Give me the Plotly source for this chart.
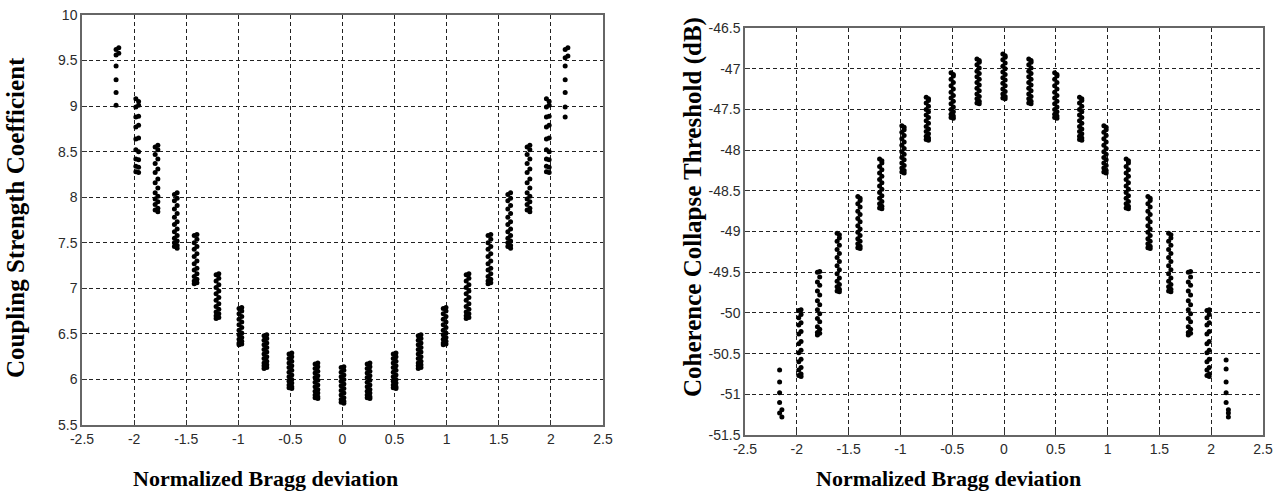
import plotly.graph_objects as go

# ---------------- Left panel: Coupling Strength Coefficient ----------------
L_X = [-2.16, -1.97, -1.785, -1.6, -1.41, -1.2, -0.98, -0.74, -0.5, -0.25, 0.0,
       0.25, 0.5, 0.74, 0.98, 1.2, 1.41, 1.6, 1.785, 1.97, 2.15]

L_M216_A = [9.62, 9.56, 9.44, 9.29, 9.15, 9.01]
L_M216_B = [9.64, 9.58]
L_M197_A = [9.08, 8.99, 8.88, 8.77, 8.64, 8.52, 8.42, 8.34, 8.28]
L_M197_B = [9.05, 9.01, 8.89, 8.79, 8.65, 8.50, 8.41, 8.33, 8.27]
L_M178_A = [8.55, 8.47, 8.37, 8.27, 8.16, 8.05, 7.98, 7.92, 7.86]
L_M178_B = [8.57, 8.52, 8.42, 8.31, 8.20, 8.10, 8.01, 7.95, 7.88, 7.84]
L_M160_A = [8.03, 7.96, 7.87, 7.78, 7.70, 7.62, 7.55, 7.50, 7.46]
L_M160_B = [8.05, 7.99, 7.91, 7.82, 7.73, 7.65, 7.58, 7.52, 7.47, 7.44]
L_M141_A = [7.58, 7.50, 7.43, 7.35, 7.27, 7.20, 7.13, 7.08, 7.05]
L_M141_B = [7.59, 7.54, 7.46, 7.38, 7.30, 7.22, 7.16, 7.10, 7.06]
L_M120_A = [7.15, 7.08, 7.01, 6.94, 6.87, 6.80, 6.74, 6.70, 6.67]
L_M120_B = [7.16, 7.11, 7.04, 6.97, 6.90, 6.83, 6.77, 6.72, 6.68]
L_M098_A = [6.78, 6.72, 6.66, 6.60, 6.54, 6.49, 6.44, 6.40, 6.38]
L_M098_B = [6.79, 6.75, 6.69, 6.63, 6.57, 6.51, 6.46, 6.42, 6.39]
L_M074_A = [6.48, 6.43, 6.38, 6.33, 6.28, 6.23, 6.18, 6.15, 6.12]
L_M074_B = [6.49, 6.45, 6.40, 6.35, 6.30, 6.25, 6.20, 6.16, 6.13]
L_M050_A = [6.28, 6.23, 6.18, 6.13, 6.08, 6.03, 5.98, 5.94, 5.91]
L_M050_B = [6.29, 6.25, 6.20, 6.15, 6.10, 6.05, 6.00, 5.96, 5.92, 5.90]
L_M025_A = [6.17, 6.12, 6.07, 6.02, 5.97, 5.92, 5.87, 5.83, 5.80]
L_M025_B = [6.18, 6.14, 6.09, 6.04, 5.99, 5.94, 5.89, 5.85, 5.81, 5.79]
L_000_A = [6.13, 6.08, 6.03, 5.98, 5.93, 5.88, 5.83, 5.78, 5.75]
L_000_B = [6.14, 6.10, 6.05, 6.00, 5.95, 5.90, 5.85, 5.80, 5.76, 5.74]
L_P215_A = [9.62, 9.53, 9.44, 9.29, 9.15, 8.99, 8.88]
L_P215_B = [9.64, 9.55]

L_COL_A = [L_M216_A, L_M197_A, L_M178_A, L_M160_A, L_M141_A, L_M120_A, L_M098_A,
           L_M074_A, L_M050_A, L_M025_A, L_000_A, L_M025_A, L_M050_A, L_M074_A,
           L_M098_A, L_M120_A, L_M141_A, L_M160_A, L_M178_A, L_M197_A, L_P215_A]
L_COL_B = [L_M216_B, L_M197_B, L_M178_B, L_M160_B, L_M141_B, L_M120_B, L_M098_B,
           L_M074_B, L_M050_B, L_M025_B, L_000_B, L_M025_B, L_M050_B, L_M074_B,
           L_M098_B, L_M120_B, L_M141_B, L_M160_B, L_M178_B, L_M197_B, L_P215_B]

# ---------------- Right panel: Coherence Collapse Threshold ----------------
R_X = [-2.155, -1.97, -1.79, -1.6, -1.40, -1.19, -0.975, -0.74, -0.5, -0.25, 0.0,
       0.25, 0.5, 0.74, 0.975, 1.19, 1.40, 1.6, 1.79, 1.97, 2.155]

R_M216_A = [-50.70, -50.85, -50.98, -51.10, -51.23]
R_M216_B = [-51.19, -51.28]
R_M197_A = [-49.97, -50.06, -50.15, -50.26, -50.38, -50.49, -50.60, -50.70, -50.77]
R_M197_B = [-49.96, -50.02, -50.12, -50.23, -50.35, -50.46, -50.57, -50.67, -50.75, -50.78]
R_M179_A = [-49.50, -49.62, -49.73, -49.85, -49.96, -50.07, -50.17, -50.24, -50.27]
R_M179_B = [-49.49, -49.56, -49.66, -49.78, -49.90, -50.01, -50.11, -50.20, -50.25]
R_M160_A = [-49.02, -49.12, -49.22, -49.32, -49.42, -49.52, -49.61, -49.68, -49.73]
R_M160_B = [-49.04, -49.08, -49.17, -49.27, -49.37, -49.47, -49.57, -49.65, -49.71, -49.74]
R_M140_A = [-48.57, -48.66, -48.75, -48.84, -48.93, -49.01, -49.09, -49.15, -49.20]
R_M140_B = [-48.59, -48.62, -48.70, -48.79, -48.88, -48.97, -49.05, -49.12, -49.18, -49.21]
R_M119_A = [-48.11, -48.20, -48.28, -48.36, -48.44, -48.52, -48.59, -48.66, -48.71]
R_M119_B = [-48.13, -48.16, -48.24, -48.32, -48.40, -48.48, -48.56, -48.63, -48.69, -48.72]
R_M098_A = [-47.70, -47.78, -47.86, -47.94, -48.02, -48.09, -48.16, -48.22, -48.27]
R_M098_B = [-47.72, -47.75, -47.82, -47.90, -47.98, -48.05, -48.12, -48.19, -48.25, -48.28]
R_M074_A = [-47.35, -47.42, -47.50, -47.57, -47.64, -47.71, -47.77, -47.83, -47.87]
R_M074_B = [-47.37, -47.39, -47.46, -47.53, -47.60, -47.67, -47.74, -47.80, -47.85, -47.88]
R_M050_A = [-47.05, -47.13, -47.21, -47.29, -47.36, -47.43, -47.50, -47.56, -47.60]
R_M050_B = [-47.07, -47.09, -47.17, -47.25, -47.33, -47.40, -47.47, -47.53, -47.58, -47.61]
R_M025_A = [-46.88, -46.95, -47.03, -47.10, -47.17, -47.24, -47.31, -47.37, -47.42]
R_M025_B = [-46.90, -46.92, -46.99, -47.06, -47.13, -47.20, -47.27, -47.34, -47.40, -47.43]
R_000_A = [-46.82, -46.89, -46.97, -47.04, -47.11, -47.18, -47.25, -47.31, -47.36]
R_000_B = [-46.84, -46.86, -46.93, -47.00, -47.07, -47.14, -47.21, -47.28, -47.34, -47.37]
R_P216_A = [-50.58, -50.69, -50.85, -50.98, -51.10]
R_P216_B = [-51.19, -51.23, -51.28]

R_COL_A = [R_M216_A, R_M197_A, R_M179_A, R_M160_A, R_M140_A, R_M119_A, R_M098_A,
           R_M074_A, R_M050_A, R_M025_A, R_000_A, R_M025_A, R_M050_A, R_M074_A,
           R_M098_A, R_M119_A, R_M140_A, R_M160_A, R_M179_A, R_M197_A, R_P216_A]
R_COL_B = [R_M216_B, R_M197_B, R_M179_B, R_M160_B, R_M140_B, R_M119_B, R_M098_B,
           R_M074_B, R_M050_B, R_M025_B, R_000_B, R_M025_B, R_M050_B, R_M074_B,
           R_M098_B, R_M119_B, R_M140_B, R_M160_B, R_M179_B, R_M197_B, R_P216_B]

SUB_OFFSET_L = [-0.013, 0.013]
SUB_OFFSET_R = [-0.011, 0.011]

X_TICKS = [-2.5, -2, -1.5, -1, -0.5, 0, 0.5, 1, 1.5, 2, 2.5]
X_TICKTEXT = ["-2.5", "-2", "-1.5", "-1", "-0.5", "0", "0.5", "1", "1.5", "2", "2.5"]
L_YTICKS = [5.5, 6, 6.5, 7, 7.5, 8, 8.5, 9, 9.5, 10]
L_YTICKTEXT = ["5.5", "6", "6.5", "7", "7.5", "8", "8.5", "9", "9.5", "10"]
R_YTICKS = [-51.5, -51, -50.5, -50, -49.5, -49, -48.5, -48, -47.5, -47, -46.5]
R_YTICKTEXT = ["-51.5", "-51", "-50.5", "-50", "-49.5", "-49", "-48.5", "-48", "-47.5", "-47", "-46.5"]


def build_points(centers, cols_a, cols_b, offs):
    xs, ys = [], []
    for c, a, b in zip(centers, cols_a, cols_b):
        for v in a:
            xs.append(c + offs[0])
            ys.append(v)
        for v in b:
            xs.append(c + offs[1])
            ys.append(v)
    return xs, ys


lx, ly = build_points(L_X, L_COL_A, L_COL_B, SUB_OFFSET_L)
rx, ry = build_points(R_X, R_COL_A, R_COL_B, SUB_OFFSET_R)

fig = go.Figure()
marker = dict(color="black", size=5, line=dict(width=0))
fig.add_trace(go.Scatter(x=lx, y=ly, mode="markers", marker=marker, xaxis="x", yaxis="y",
                         showlegend=False, hoverinfo="skip"))
fig.add_trace(go.Scatter(x=rx, y=ry, mode="markers", marker=marker, xaxis="x2", yaxis="y2",
                         showlegend=False, hoverinfo="skip"))

W, H = 1286, 500
tickfont = dict(family="Liberation Sans, Arial, sans-serif", size=14, color="#2a2a2a")
common = dict(showgrid=True, gridcolor="#222", gridwidth=1, griddash="4px,3px",
              showline=True, linecolor="#666", linewidth=1.5, mirror=True,
              ticks="inside", ticklen=5, tickcolor="#333", tickfont=tickfont,
              zeroline=False, automargin=False, tickmode="array")

fig.update_layout(
    width=W, height=H, margin=dict(l=0, r=0, t=0, b=0),
    paper_bgcolor="white", plot_bgcolor="white",
    xaxis=dict(domain=[82 / W, 603 / W], range=[-2.5, 2.5], anchor="y",
               tickvals=X_TICKS, ticktext=X_TICKTEXT, **common),
    yaxis=dict(domain=[1 - 425 / H, 1 - 15 / H], range=[5.5, 10], anchor="x",
               tickvals=L_YTICKS, ticktext=L_YTICKTEXT, **common),
    xaxis2=dict(domain=[745 / W, 1263 / W], range=[-2.5, 2.5], anchor="y2",
                tickvals=X_TICKS, ticktext=X_TICKTEXT, **common),
    yaxis2=dict(domain=[1 - 435 / H, 1 - 28 / H], range=[-51.5, -46.5], anchor="x2",
                tickvals=R_YTICKS, ticktext=R_YTICKTEXT, **common),
)

ytitle_font = dict(family="Liberation Serif, Times New Roman, serif", size=25, color="black")
xtitle_font = dict(family="Liberation Serif, Times New Roman, serif", size=22, color="black")
fig.add_annotation(text="<b>Coupling Strength Coefficient</b>", xref="paper", yref="paper",
                   x=16 / W, y=1 - 218 / H, textangle=-90, showarrow=False, font=ytitle_font,
                   xanchor="center", yanchor="middle")
fig.add_annotation(text="<b>Coherence Collapse Threshold (dB)</b>", xref="paper", yref="paper",
                   x=693 / W, y=1 - 207 / H, textangle=-90, showarrow=False, font=ytitle_font,
                   xanchor="center", yanchor="middle")
fig.add_annotation(text="<b>Normalized Bragg deviation</b>", xref="paper", yref="paper",
                   x=265 / W, y=1 - 478 / H, showarrow=False, font=xtitle_font,
                   xanchor="center", yanchor="middle")
fig.add_annotation(text="<b>Normalized Bragg deviation</b>", xref="paper", yref="paper",
                   x=948 / W, y=1 - 478 / H, showarrow=False, font=xtitle_font,
                   xanchor="center", yanchor="middle")

fig.write_html("out.html", config={"displayModeBar": False},
               post_script="document.body.style.margin='0';document.body.style.overflow='hidden';")
